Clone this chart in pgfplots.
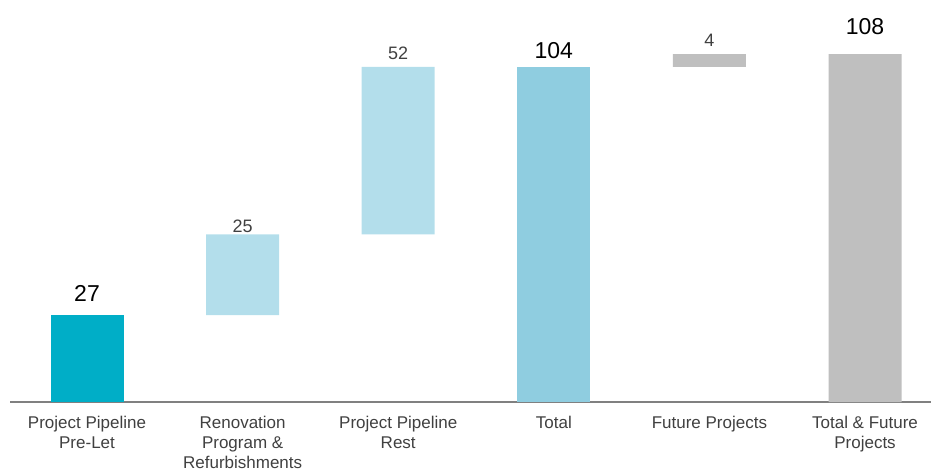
\documentclass[border=0pt]{standalone}
\usepackage{pgfplots}
\pgfplotsset{compat=1.18}
\usepackage{fontspec}
\setmainfont{Liberation Sans}
\definecolor{teal}{HTML}{00AEC7}
\definecolor{lightb}{HTML}{B3DEEB}
\definecolor{totalb}{HTML}{8FCDE0}
\definecolor{greyb}{HTML}{BFBFBF}
\definecolor{axisgrey}{HTML}{808080}
\definecolor{txt}{HTML}{404040}
\begin{document}
\begin{tikzpicture}[x=1pt,y=1pt]
\path[use as bounding box] (-10,-69) rectangle (921,402);
\begin{axis}[
  at={(0,0)}, anchor=south west,
  scale only axis,
  width=921pt, height=402pt,
  xmin=-0.495, xmax=5.424,
  ymin=0, ymax=124.8,
  ybar stacked, bar width=73pt,
  axis x line*=bottom, axis y line=none,
  x axis line style={axisgrey, line width=1.6pt, -},
  xtick={0,1,2,3,4,5},
  xticklabels={Project Pipeline\\Pre-Let, Renovation\\Program \&\\Refurbishments, Project Pipeline\\Rest, Total, Future Projects, Total \& Future\\Projects},
  xticklabel style={align=center, font=\fontsize{17}{20}\selectfont, text=txt, inner sep=0pt, yshift=-14pt},
  major tick length=0pt,
  ytick=\empty,
  clip=false,
]
% invisible offsets
\addplot[draw=none, fill=none] coordinates {(0,0) (1,27) (2,52) (3,0) (4,104) (5,0)};
\addplot[draw=none, fill=teal] coordinates {(0,27) (1,0) (2,0) (3,0) (4,0) (5,0)};
\addplot[draw=none, fill=lightb] coordinates {(0,0) (1,25) (2,52) (3,0) (4,0) (5,0)};
\addplot[draw=none, fill=totalb] coordinates {(0,0) (1,0) (2,0) (3,104) (4,0) (5,0)};
\addplot[draw=none, fill=greyb] coordinates {(0,0) (1,0) (2,0) (3,0) (4,4) (5,108)};
\node[anchor=base, font=\fontsize{23}{26}\selectfont] at (axis cs:0,31.1) {27};
\node[anchor=base, font=\fontsize{18}{20}\selectfont, text=txt] at (axis cs:1,52.5) {25};
\node[anchor=base, font=\fontsize{18}{20}\selectfont, text=txt] at (axis cs:2,106.2) {52};
\node[anchor=base, font=\fontsize{23}{26}\selectfont] at (axis cs:3,106.5) {104};
\node[anchor=base, font=\fontsize{18}{20}\selectfont, text=txt] at (axis cs:4,110.3) {4};
\node[anchor=base, font=\fontsize{23}{26}\selectfont] at (axis cs:5,114.0) {108};
\end{axis}
\end{tikzpicture}
\end{document}
